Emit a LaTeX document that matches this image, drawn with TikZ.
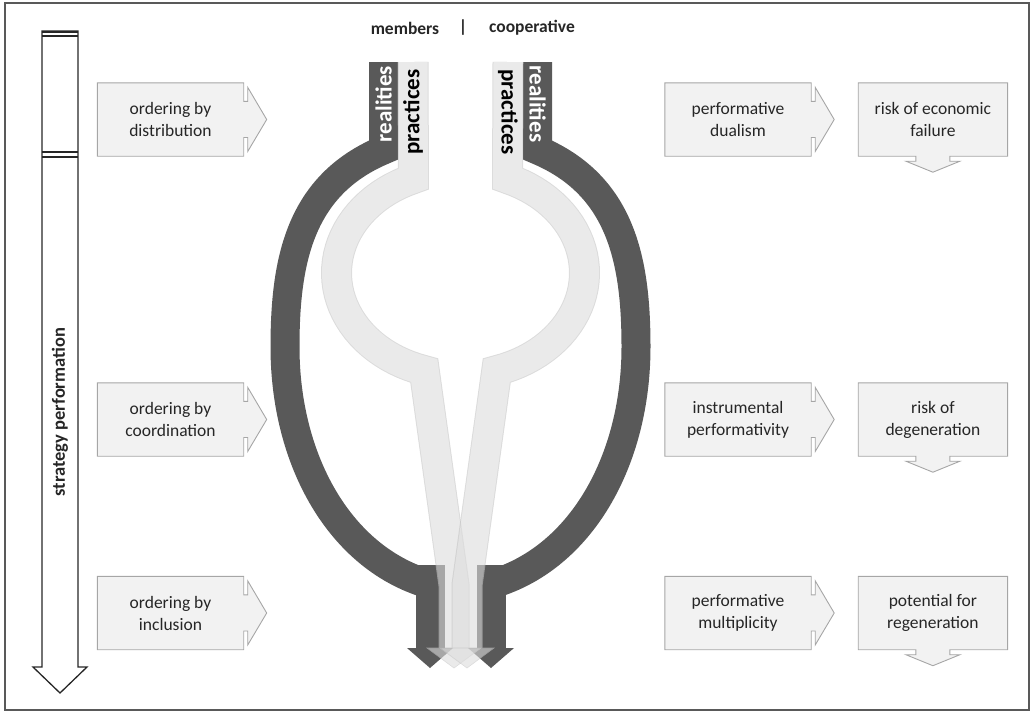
\documentclass[tikz,border=0pt]{standalone}
\usepackage{fontspec}
\setmainfont{Carlito}
\usetikzlibrary{positioning,calc,backgrounds}

\definecolor{realgray}{HTML}{595959}
\definecolor{pracgray}{HTML}{DCDCDC}
\definecolor{pracedge}{HTML}{C4C4C4}
\definecolor{boxfill}{HTML}{F2F2F2}
\definecolor{boxline}{HTML}{A6A6A6}
\definecolor{textgray}{HTML}{262626}

\newcommand{\boxfont}{\fontsize{17.5}{22}\selectfont}
\newcommand{\headfont}{\fontsize{17.5}{21}\selectfont\bfseries}
\newcommand{\streamfont}{\fontsize{23}{26}\selectfont\bfseries}

% arrow callout pointing right, drawn round a node
\newcommand{\rightcallout}[1]{%
  \filldraw[calloutshape] (#1.north west) -- (#1.north east) -- ++(0,18.5) -- ++(4,0)
    -- ++(0,-14) -- ($(#1.east)+(23,0)$) -- ($(#1.east)+(4,32)$) -- ++(0,-14)
    -- ++(-4,0) -- (#1.south east) -- (#1.south west) -- cycle;}
% arrow callout pointing down
\newcommand{\downcallout}[1]{%
  \filldraw[calloutshape] (#1.north west) -- (#1.north east) -- (#1.south east)
    -- ($(#1.south)+(17,0)$) -- ++(0,5) -- ++(10,0) -- ($(#1.south)+(0,16)$)
    -- ($(#1.south)+(-27,5)$) -- ++(10,0) -- ++(0,-5) -- (#1.south west) -- cycle;}

\begin{document}
\begin{tikzpicture}[%
  x=1pt, y=-1pt,
  calloutshape/.style={draw=boxline, fill=boxfill, line width=0.9pt},
  calloutbox/.style={
    minimum width=146pt,
    minimum height=73pt,
    inner sep=0pt,
    align=center,
    font=\boxfont,
    text=textgray,},
  headtext/.style={font=\headfont, text=textgray},
  streamtext/.style={font=\streamfont, inner sep=0pt},
  realband/.style={draw=realgray, line width=29pt},
  pracband/.style={draw=pracedge, line width=1pt, double=pracgray, double distance=29pt},
  prachead/.style={fill=pracgray, draw=pracedge, line width=0.6pt},
  pracgroup/.style={transparency group, opacity=0.6},
  ]
  \useasboundingbox (0,0) rectangle (1033,713);
  \draw[draw=realgray, line width=1.2pt] (5,3) rectangle (1029,710);

  %% strategy arrow
  \draw[line width=1.3pt, draw=black!85] (42,31) -- (78,31) -- (78,667) -- (87,667)
    -- (60,693) -- (33,667) -- (42,667) -- cycle;
  \draw[line width=2pt, draw=black!85] (42,32) -- (78,32) (42,36) -- (78,36);
  \draw[line width=2pt, draw=black!85] (42,152) -- (78,152) (42,156.5) -- (78,156.5);
  \node[headtext, rotate=90, font=\fontsize{18.5}{21}\selectfont\bfseries] (strat) at (60,412) {strategy performation};

  %% Nodes
  \node[calloutbox] (L1) at (170.5,119.5) {ordering by\\distribution};
  \node[calloutbox] (L2) at (170.5,419.5) {ordering by\\coordination};
  \node[calloutbox] (L3) at (170.5,613) {ordering by\\inclusion};
  \node[calloutbox] (R1) at (738,119.5) {performative\\dualism};
  \node[calloutbox] (R2) at (738,419.5) {instrumental\\performativity};
  \node[calloutbox] (R3) at (738,613) {performative\\multiplicity};
  \node[calloutbox, minimum width=149pt, right=47pt of R1] (O1) {risk of economic\\failure};
  \node[calloutbox, minimum width=149pt, right=47pt of R2] (O2) {risk of\\degeneration};
  \node[calloutbox, minimum width=149pt, right=47pt of R3] (O3) {potential for\\regeneration};

  \begin{scope}[on background layer]
    \rightcallout{L1}
    \rightcallout{L2}
    \rightcallout{L3}
    \rightcallout{R1}
    \rightcallout{R2}
    \rightcallout{R3}
    \downcallout{O1}
    \downcallout{O2}
    \downcallout{O3}
  \end{scope}

  %% heading
  \node[headtext] (members) at (405,28) {members};
  \node[headtext] (bar) at (463,28) {|};
  \node[headtext] (coop) at (532,28) {cooperative};

  %% realities
  \draw[realband] (383.5,62) -- (383.5,150) .. controls (300,185) and (285,260) .. (285,347)
    .. controls (285,460) and (340,560) .. (432,585);
  \draw[realband] (430,565) -- (430,648);
  \draw[realband] (537.5,62) -- (537.5,150) .. controls (621,185) and (636,260) .. (636,347)
    .. controls (636,460) and (581,560) .. (489,585);
  \draw[realband] (491,565) -- (491,648);
  \fill[realgray] (407,648) -- (453,648) -- (430,668) -- cycle;
  \fill[realgray] (468,648) -- (514,648) -- (491,668) -- cycle;

  %% practices
  \begin{scope}[pracgroup]
    \draw[pracband] (413,62) -- plot[domain=247.7:107, samples=40]
      ({460.5+124*cos(\x)},{273+102*sin(\x)}) -- (454,585) -- (454,648);
    \filldraw[prachead] (427,648) -- (481,648) -- (454,668) -- cycle;
  \end{scope}
  \begin{scope}[pracgroup]
    \draw[pracband] (508,62) -- plot[domain=292.3:433, samples=40]
      ({460.5+124*cos(\x)},{273+102*sin(\x)}) -- (467,585) -- (467,648);
    \filldraw[prachead] (440,648) -- (494,648) -- (467,668) -- cycle;
  \end{scope}

  %% strip labels
  \node[streamtext, text=white, rotate=90] (realL) at (383.5,104) {realities};
  \node[streamtext, rotate=90] (pracL) at (413,112) {practices};
  \node[streamtext, rotate=-90] (pracR) at (508,112) {practices};
  \node[streamtext, text=white, rotate=-90] (realR) at (537.5,104) {realities};
\end{tikzpicture}
\end{document}
